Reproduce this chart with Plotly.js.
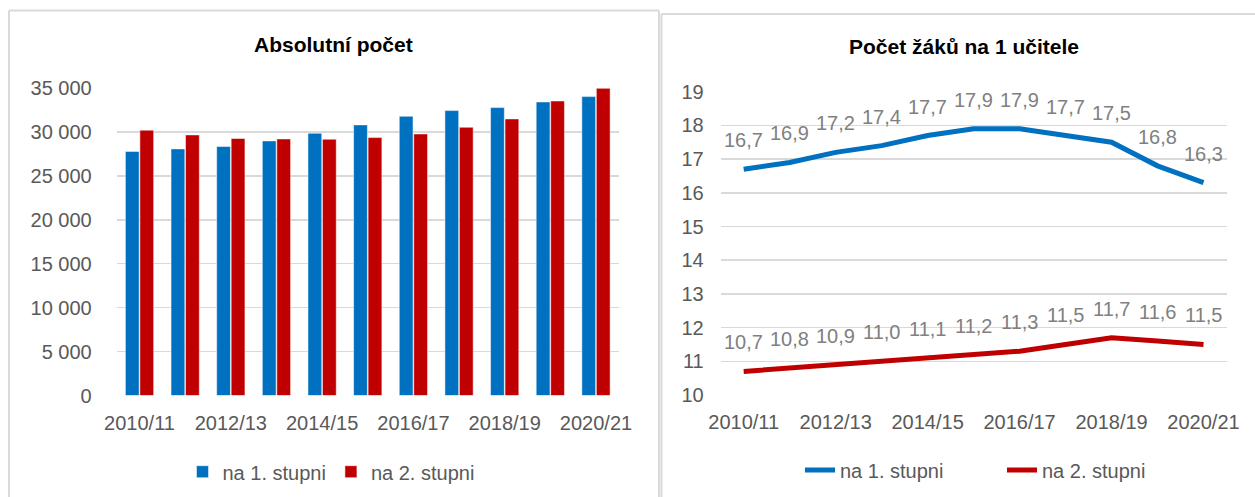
<!DOCTYPE html>
<html>
<head>
<meta charset="utf-8">
<script src="https://cdn.plot.ly/plotly-3.0.1.min.js"></script>
<style>html,body{margin:0;padding:0;background:#fff;}#chart{width:1255px;height:497px;}</style>
</head>
<body>
<div id="chart"></div>
<script>
const categories = ['2010/11','2011/12','2012/13','2013/14','2014/15','2015/16','2016/17','2017/18','2018/19','2019/20','2020/21'];
const tickLabels = ['2010/11','2012/13','2014/15','2016/17','2018/19','2020/21'];
const seriesNames = ['na 1. stupni','na 2. stupni'];
const absStage1 = [27780, 28070, 28340, 28980, 29850, 30800, 31780, 32430, 32770, 33410, 34020];
const absStage2 = [30200, 29660, 29250, 29200, 29170, 29360, 29770, 30530, 31480, 33520, 34960];
const ratioStage1 = [16.7, 16.9, 17.2, 17.4, 17.7, 17.9, 17.9, 17.7, 17.5, 16.8, 16.3];
const ratioStage2 = [10.7, 10.8, 10.9, 11.0, 11.1, 11.2, 11.3, 11.5, 11.7, 11.6, 11.5];
const titles = ['Absolutní počet', 'Počet žáků na 1 učitele'];

const BLUE = '#0070C0', RED = '#C00000';
const FONT = 'Liberation Sans, Arial, sans-serif';
const TICK = {family: FONT, size: 20, color: '#595959'};
const W = 1255, H = 497;
const px = v => v / W, py = v => 1 - v / H;

const traces = [
  {type:'bar', x:categories, y:absStage1, name:seriesNames[0], marker:{color:BLUE, line:{color:'#ffffff', width:0.5}}, xaxis:'x', yaxis:'y', legend:'legend', hoverinfo:'skip'},
  {type:'bar', x:categories, y:absStage2, name:seriesNames[1], marker:{color:RED, line:{color:'#ffffff', width:0.5}}, xaxis:'x', yaxis:'y', legend:'legend', hoverinfo:'skip'},
  {type:'scatter', mode:'lines', x:categories, y:ratioStage1, name:seriesNames[0], line:{color:BLUE, width:5}, xaxis:'x2', yaxis:'y2', legend:'legend2', hoverinfo:'skip'},
  {type:'scatter', mode:'lines', x:categories, y:ratioStage2, name:seriesNames[1], line:{color:RED, width:5}, xaxis:'x2', yaxis:'y2', legend:'legend2', hoverinfo:'skip'}
];

const fmt = v => v.toFixed(1).replace('.', ',');
const annotations = [];
[ratioStage1, ratioStage2].forEach(arr => {
  arr.forEach((v, i) => {
    annotations.push({x: categories[i], y: v, xref:'x2', yref:'y2', text: fmt(v), showarrow:false,
      yanchor:'middle', yshift:29, font:{family:FONT, size:20, color:'#808080'}});
  });
});
annotations.push({x:px(333), y:py(44), xref:'paper', yref:'paper', text:'<b>'+titles[0]+'</b>', showarrow:false,
  xanchor:'center', yanchor:'middle', font:{family:FONT, size:21, color:'#000'}});
annotations.push({x:px(964), y:py(47), xref:'paper', yref:'paper', text:'<b>'+titles[1]+'</b>', showarrow:false,
  xanchor:'center', yanchor:'middle', font:{family:FONT, size:21, color:'#000'}});

const border = {color:'#d9d9d9', width:2};
const shapes = [
  {type:'line', xref:'paper', yref:'paper', x0:px(9), x1:px(9), y0:-0.1, y1:py(10.5), line:border},
  {type:'line', xref:'paper', yref:'paper', x0:px(9), x1:px(659), y0:py(10.5), y1:py(10.5), line:border},
  {type:'line', xref:'paper', yref:'paper', x0:px(659), x1:px(659), y0:-0.1, y1:py(10.5), line:border},
  {type:'line', xref:'paper', yref:'paper', x0:px(661.5), x1:px(661.5), y0:-0.1, y1:py(14), line:border},
  {type:'line', xref:'paper', yref:'paper', x0:px(661.5), x1:1.05, y0:py(14), y1:py(14), line:border}
];

const xCommon = {type:'category', range:[-0.5, 10.5], tickvals:tickLabels, ticktext:tickLabels,
  showgrid:false, zeroline:false, showline:false, ticks:'', tickfont:TICK, ticklabelstandoff:13, fixedrange:true};

const layout = {
  width:W, height:H, margin:{l:0, r:0, t:0, b:0, autoexpand:false},
  paper_bgcolor:'#fff', plot_bgcolor:'rgba(0,0,0,0)',
  separators:', ',
  barmode:'group', bargap:0.365, bargroupgap:0.05,
  font:{family:FONT},
  xaxis:Object.assign({}, xCommon, {domain:[px(116.7), px(618.8)], anchor:'y'}),
  yaxis:{domain:[1-395.5/H, 1-88/H], range:[0, 35000], tickvals:[0,5000,10000,15000,20000,25000,30000,35000],
    tickformat:',d', showgrid:true, gridcolor:'#d9d9d9', gridwidth:1.5, zeroline:false, showline:false, ticks:'',
    tickfont:TICK, ticklabelstandoff:24, anchor:'x', fixedrange:true},
  xaxis2:Object.assign({}, xCommon, {domain:[px(720.7), px(1226.5)], anchor:'y2'}),
  yaxis2:{domain:[1-395/H, 1-91.7/H], range:[10, 19], dtick:1, tick0:10,
    showgrid:true, gridcolor:'#d9d9d9', gridwidth:1.5, zeroline:false, showline:false, ticks:'',
    tickfont:TICK, ticklabelstandoff:16, anchor:'x2', fixedrange:true},
  legend:{orientation:'h', x:px(331), xanchor:'center', y:py(471.7), yanchor:'middle',
    font:{family:FONT, size:20, color:'#595959'}, bgcolor:'rgba(0,0,0,0)', traceorder:'normal'},
  legend2:{orientation:'h', x:px(800), xanchor:'left', y:py(470), yanchor:'middle', entrywidth:157,
    font:{family:FONT, size:20, color:'#595959'}, bgcolor:'rgba(0,0,0,0)', traceorder:'normal'},
  showlegend:true,
  annotations:annotations,
  shapes:shapes
};

Plotly.newPlot('chart', traces, layout, {displayModeBar:false, staticPlot:true});
</script>
</body>
</html>
